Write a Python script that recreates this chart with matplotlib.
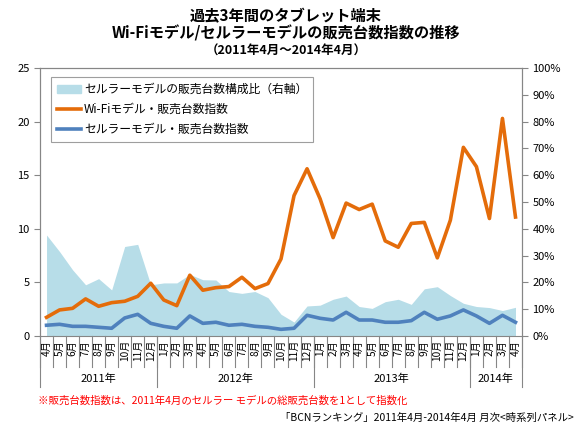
import numpy as np
import matplotlib
matplotlib.use("Agg")
import matplotlib.pyplot as plt
from matplotlib.patches import Patch
from matplotlib.lines import Line2D

plt.rcParams['font.family'] = ['Noto Sans CJK JP', 'DejaVu Sans']

# months Apr 2011 .. Apr 2014
months = ["4月", "5月", "6月", "7月", "8月", "9月", "10月", "11月", "12月",
          "1月", "2月", "3月", "4月", "5月", "6月", "7月", "8月", "9月", "10月", "11月", "12月",
          "1月", "2月", "3月", "4月", "5月", "6月", "7月", "8月", "9月", "10月", "11月", "12月",
          "1月", "2月", "3月", "4月"]
years = ["2011年", "2012年", "2013年", "2014年"]
year_bounds = [-0.5, 8.5, 20.5, 32.5, 36.5]

wifi_index = [1.74, 2.43, 2.58, 3.46, 2.77, 3.11, 3.24, 3.70, 4.92,
              3.36, 2.83, 5.67, 4.27, 4.51, 4.61, 5.48, 4.42, 4.89, 7.19, 13.1, 15.6,
              12.8, 9.18, 12.4, 11.8, 12.3, 8.87, 8.28, 10.5, 10.6, 7.29, 10.8, 17.6,
              15.8, 10.96, 20.3, 11.1]
cell_index = [1.0, 1.09, 0.90, 0.90, 0.81, 0.72, 1.68, 2.02, 1.18,
              0.90, 0.72, 1.87, 1.18, 1.28, 1.0, 1.09, 0.90, 0.81, 0.62, 0.72, 1.93,
              1.65, 1.49, 2.21, 1.49, 1.49, 1.28, 1.28, 1.43, 2.21, 1.56, 1.87, 2.43,
              1.87, 1.18, 1.93, 1.28]
cell_share = [37.7, 31.5, 24.7, 19.1, 21.4, 17.2, 33.4, 34.2, 19.1,
              19.8, 19.8, 23.0, 21.0, 20.9, 16.6, 15.9, 16.6, 14.3, 8.1, 5.2, 11.2,
              11.5, 13.7, 14.9, 11.0, 10.3, 12.8, 13.7, 11.8, 17.6, 18.4, 15.1, 12.2,
              11.0, 10.6, 9.5, 10.7]

orange = "#E46C0A"
blue = "#4F81BD"
area_c = "#B7DDE8"
grey = "#868686"

x = np.arange(len(months))

fig = plt.figure(figsize=(5.8, 4.28), dpi=100)
ax = fig.add_axes([0.069, 0.215, 0.831, 0.626])
ax2 = ax.twinx()

ax2.fill_between(x, 0, cell_share, color=area_c, linewidth=0)
ax2.set_ylim(0, 100)
ax2.set_yticks(np.arange(0, 101, 10))
ax2.set_yticklabels([f"{v}%" for v in range(0, 101, 10)])

ax.plot(x, wifi_index, color=orange, lw=2.6)
ax.plot(x, cell_index, color=blue, lw=2.6)
ax.set_ylim(0, 25)
ax.set_yticks(np.arange(0, 26, 5))
ax.set_xlim(-0.5, 36.5)
ax.set_xticks([])
ax.set_zorder(ax2.get_zorder() + 1)
ax.patch.set_visible(False)

for a in (ax, ax2):
    for s in a.spines.values():
        s.set_color(grey)
    a.tick_params(axis='y', colors=grey, labelcolor='black', labelsize=8, length=4)
ax2.spines['bottom'].set_visible(False)

# month labels and separators below the axis
tr = ax.get_xaxis_transform()
for i, m in enumerate(months):
    ax.text(i, -0.015, m, rotation=90, ha='center', va='top', fontsize=7.3, transform=tr)
for b in np.arange(-0.5, 37, 1):
    ax.plot([b, b], [0, -0.116], color=grey, lw=0.8, transform=tr, clip_on=False)
for b in year_bounds:
    ax.plot([b, b], [0, -0.19], color=grey, lw=0.8, transform=tr, clip_on=False)
for k, y in enumerate(years):
    ax.text((year_bounds[k] + year_bounds[k + 1]) / 2, -0.16, y, ha='center', va='center',
            fontsize=8, transform=tr)

handles = [Patch(color=area_c), Line2D([], [], color=orange, lw=2.6), Line2D([], [], color=blue, lw=2.6)]
labels = ["セルラーモデルの販売台数構成比（右軸）", "Wi-Fiモデル・販売台数指数", "セルラーモデル・販売台数指数"]
leg = ax.legend(handles, labels, loc='upper left', bbox_to_anchor=(0.023, 0.966), fontsize=8.5,
                frameon=True, fancybox=False, edgecolor=grey, handlelength=2.0, handletextpad=0.3,
                borderpad=0.5, labelspacing=0.6, borderaxespad=0)
leg.get_frame().set_linewidth(0.8)

fig.text(0.493, 0.963, "過去3年間のタブレット端末", ha='center', va='center', fontsize=11, fontweight='bold')
fig.text(0.493, 0.921, "Wi-Fiモデル/セルラーモデルの販売台数指数の推移", ha='center', va='center',
         fontsize=11, fontweight='bold')
fig.text(0.493, 0.881, "（2011年4月～2014年4月）", ha='center', va='center', fontsize=9, fontweight='bold')

fig.text(0.066, 0.063, "※販売台数指数は、2011年4月のセルラー モデルの総販売台数を1として指数化",
         ha='left', va='center', fontsize=7.5, color='red')
fig.text(0.99, 0.023, "「BCNランキング」2011年4月-2014年4月 月次<時系列パネル>",
         ha='right', va='center', fontsize=7.5)

fig.savefig("out.png", dpi=100)
